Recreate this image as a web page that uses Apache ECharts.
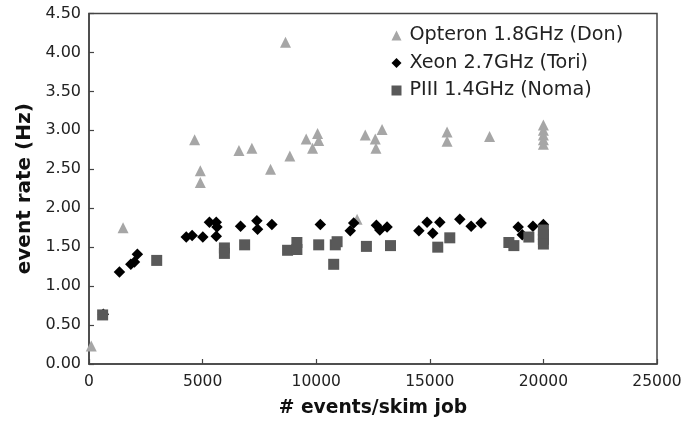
<!DOCTYPE html>
<html><head><meta charset="utf-8">
<script src="https://cdn.jsdelivr.net/npm/echarts@6/dist/echarts.min.js"></script>
<style>html,body{margin:0;padding:0;background:#fff}#c{width:698px;height:423px}</style>
</head><body><div id="c"></div>
<script>
const seriesNames = ['Opteron 1.8GHz (Don)', 'Xeon 2.7GHz (Tori)', 'PIII 1.4GHz (Noma)'];
const opteron = [[100,0.23],[1500,1.75],[4650,2.88],[4900,2.48],[4900,2.33],[6600,2.74],[7170,2.77],[7990,2.50],[8650,4.13],[8840,2.67],[9560,2.89],[9840,2.77],[10060,2.96],[10110,2.87],[11800,1.86],[12160,2.94],[12600,2.89],[12630,2.77],[12900,3.01],[15760,2.98],[15760,2.86],[17630,2.92],[20000,3.07],[20000,3.00],[20000,2.94],[20000,2.88],[20000,2.82]];
const xeon = [[630,0.64],[1340,1.18],[1840,1.28],[2000,1.31],[2130,1.41],[4280,1.63],[4540,1.65],[5010,1.63],[5300,1.82],[5600,1.82],[5630,1.76],[5600,1.64],[6670,1.77],[7390,1.84],[7420,1.73],[8050,1.79],[10180,1.79],[11500,1.71],[11650,1.81],[12650,1.78],[12800,1.72],[13120,1.76],[14520,1.71],[14880,1.82],[15130,1.68],[15440,1.82],[16320,1.86],[16820,1.77],[17260,1.81],[18890,1.76],[19070,1.66],[19540,1.77],[20000,1.79]];
const piii = [[600,0.63],[2980,1.33],[5960,1.49],[5960,1.42],[6850,1.53],[8740,1.46],[9150,1.47],[9150,1.56],[10110,1.53],[10770,1.28],[10840,1.53],[10920,1.57],[12210,1.51],[13270,1.52],[15350,1.50],[15880,1.62],[18480,1.56],[18700,1.52],[19360,1.63],[20000,1.72],[20000,1.66],[20000,1.60],[20000,1.54]];
const colors = ['#a6a6a6', '#000000', '#595959'];
const symbols = ['triangle', 'diamond', 'rect'];
const sizes = [11, 11.5, 11];
const xMin = 0, xMax = 25000, xStep = 5000;
const yMin = 0, yMax = 4.5, yStep = 0.5;

const chart = echarts.init(document.getElementById('c'), null, {renderer: 'canvas'});
const font = 'DejaVu Sans';
chart.setOption({
  backgroundColor: '#fff',
  animation: false,
  grid: {left: 89, right: 41, top: 13.5, bottom: 55, show: true, borderColor: '#444', borderWidth: 1.5, backgroundColor: 'transparent'},
  legend: {
    orient: 'vertical', left: 386.5, top: 20.5, itemGap: 7.5, itemWidth: 10, itemHeight: 10,
    textStyle: {fontFamily: font, fontSize: 19.2, color: '#222', lineHeight: 20, padding: [0,0,0,3]},
    data: seriesNames.map((n, i) => ({name: n, icon: symbols[i]}))
  },
  xAxis: {
    type: 'value', min: xMin, max: xMax, interval: xStep,
    name: '# events/skim job', nameLocation: 'middle', nameGap: 35,
    nameTextStyle: {fontFamily: font, fontWeight: 'bold', fontSize: 18.7, color: '#111'},
    axisLine: {show: true, lineStyle: {color: '#444', width: 1.5}},
    axisTick: {show: true, inside: true, length: 5, lineStyle: {color: '#444', width: 1.2}},
    axisLabel: {fontFamily: font, fontSize: 15.5, color: '#222', margin: 10, formatter: v => String(v)},
    splitLine: {show: false}
  },
  yAxis: {
    type: 'value', min: yMin, max: yMax, interval: yStep,
    name: 'event rate (Hz)', nameLocation: 'middle', nameGap: 53.5, nameRotate: 90,
    nameTextStyle: {fontFamily: font, fontWeight: 'bold', fontSize: 20, color: '#111'},
    axisLine: {show: true, lineStyle: {color: '#444', width: 1.5}},
    axisTick: {show: true, inside: true, length: 5, lineStyle: {color: '#444', width: 1.2}},
    axisLabel: {fontFamily: font, fontSize: 16, color: '#222', margin: 8, padding: [3,0,0,0], formatter: v => v.toFixed(2)},
    splitLine: {show: false}
  },
  series: [opteron, xeon, piii].map((d, i) => ({
    name: seriesNames[i], type: 'scatter', data: d,
    symbol: symbols[i], symbolSize: sizes[i],
    itemStyle: {color: colors[i], opacity: 1}
  }))
});
</script></body></html>
